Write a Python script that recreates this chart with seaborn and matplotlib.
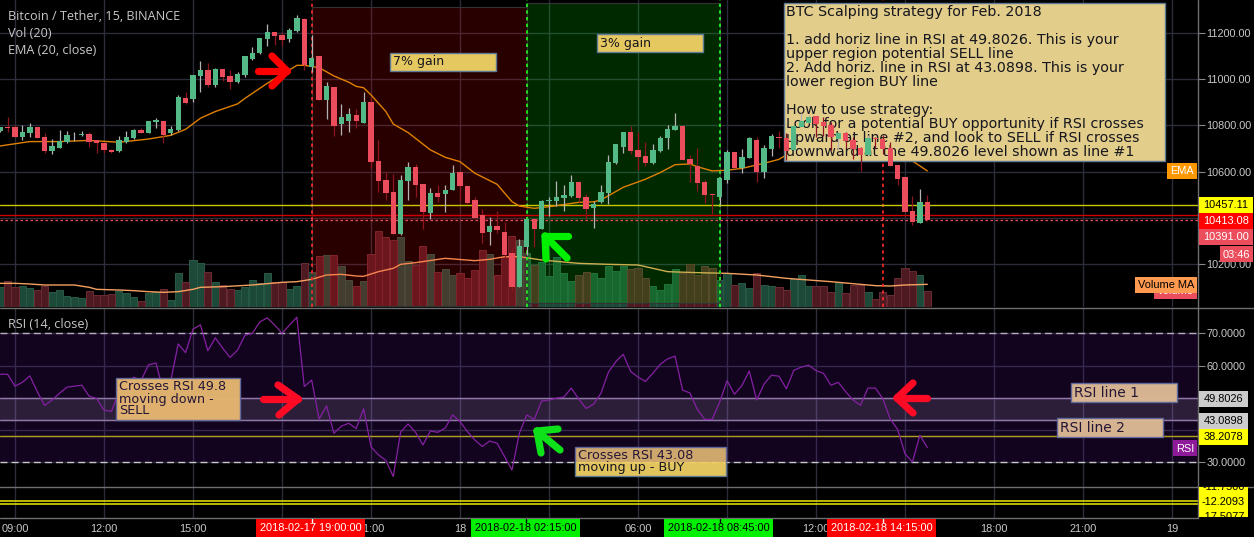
import numpy as np
import matplotlib
matplotlib.use("Agg")
import matplotlib.pyplot as plt
from matplotlib.patches import Rectangle
import seaborn as sns

# === Data ===
bars = np.arange(-2, 124)  # 15 minute bars counted from 09:00

opens = [10776, 10793, 10793, 10750, 10767, 10793, 10750, 10689, 10702, 10728, 10758, 10759, 10763, 10735, 10724, 10694,
         10689, 10728, 10746, 10780, 10767, 10815, 10819, 10767, 10780, 10919, 10914, 11014, 11040, 10975, 11044, 11014,
         10988, 11018, 11088, 11114, 11174, 11204, 11191, 11174, 11209, 11261, 11053, 11101, 10910, 10966, 10806, 10819,
         10845, 10811, 10901, 10646, 10564, 10512, 10330, 10559, 10620, 10546, 10421, 10507, 10503, 10520, 10598, 10538,
         10477, 10412, 10339, 10365, 10339, 10248, 10101, 10274, 10395, 10352, 10473, 10473, 10486, 10495, 10555, 10490,
         10443, 10469, 10507, 10637, 10707, 10772, 10694, 10668, 10637, 10689, 10746, 10780, 10798, 10655, 10624, 10555,
         10503, 10490, 10564, 10685, 10616, 10659, 10737, 10598, 10698, 10750, 10746, 10694, 10792, 10809, 10841, 10815,
         10800, 10741, 10766, 10737, 10702, 10672, 10747, 10741, 10702, 10629, 10577, 10430, 10378, 10469]
highs = [10795, 10838, 10802, 10802, 10809, 10795, 10766, 10740, 10780, 10776, 10772, 10776, 10772, 10736, 10730, 10697,
         10754, 10776, 10785, 10787, 10819, 10834, 10821, 10798, 10932, 10945, 11018, 11079, 11069, 11047, 11044, 11040,
         11031, 11101, 11141, 11178, 11239, 11206, 11204, 11222, 11278, 11267, 11191, 11101, 10988, 10966, 10893, 10875,
         10871, 10945, 10925, 10737, 10598, 10590, 10585, 10642, 10633, 10546, 10529, 10542, 10542, 10629, 10598, 10538,
         10492, 10438, 10404, 10430, 10382, 10268, 10308, 10395, 10398, 10477, 10490, 10559, 10542, 10585, 10555, 10503,
         10473, 10542, 10672, 10720, 10772, 10798, 10772, 10728, 10720, 10754, 10802, 10854, 10798, 10672, 10702, 10564,
         10503, 10572, 10694, 10685, 10698, 10751, 10751, 10715, 10763, 10776, 10766, 10798, 10852, 10845, 10841, 10835,
         10816, 10772, 10772, 10751, 10708, 10759, 10748, 10759, 10728, 10629, 10577, 10495, 10525, 10499]
lows = [10772, 10773, 10750, 10737, 10751, 10746, 10679, 10676, 10702, 10722, 10733, 10754, 10707, 10679, 10682, 10682,
        10686, 10725, 10743, 10766, 10766, 10789, 10722, 10759, 10777, 10893, 10903, 10945, 10968, 10968, 10992, 10958,
        10982, 11010, 11083, 11109, 11144, 11148, 11144, 11161, 11204, 11040, 11033, 10910, 10828, 10754, 10759, 10772,
        10787, 10811, 10616, 10512, 10477, 10330, 10326, 10477, 10490, 10352, 10395, 10469, 10425, 10520, 10473, 10460,
        10399, 10291, 10282, 10334, 10232, 10083, 10101, 10239, 10275, 10352, 10408, 10451, 10430, 10492, 10469, 10395,
        10356, 10463, 10460, 10633, 10681, 10676, 10607, 10624, 10633, 10685, 10698, 10780, 10650, 10555, 10516, 10464,
        10417, 10456, 10552, 10616, 10594, 10659, 10557, 10572, 10668, 10702, 10650, 10691, 10792, 10809, 10751, 10754,
        10694, 10697, 10701, 10655, 10603, 10668, 10701, 10675, 10624, 10542, 10425, 10369, 10378, 10386]
closes = [10793, 10790, 10750, 10772, 10793, 10746, 10689, 10711, 10733, 10759, 10760, 10762, 10728, 10725, 10694, 10685,
          10737, 10750, 10780, 10767, 10819, 10824, 10759, 10785, 10923, 10897, 11018, 11040, 10975, 11044, 11010, 10988,
          11023, 11101, 11114, 11178, 11204, 11187, 11170, 11213, 11265, 11062, 11092, 10910, 10971, 10798, 10836, 10849,
          10819, 10901, 10642, 10559, 10507, 10330, 10564, 10620, 10542, 10425, 10507, 10490, 10520, 10594, 10538, 10464,
          10399, 10334, 10365, 10347, 10239, 10101, 10278, 10395, 10352, 10473, 10477, 10490, 10499, 10555, 10486, 10438,
          10460, 10512, 10642, 10720, 10772, 10689, 10663, 10637, 10694, 10746, 10785, 10798, 10650, 10633, 10551, 10499,
          10500, 10572, 10685, 10616, 10663, 10746, 10598, 10702, 10754, 10747, 10689, 10798, 10818, 10835, 10806, 10798,
          10750, 10769, 10731, 10697, 10672, 10746, 10741, 10698, 10624, 10568, 10425, 10382, 10469, 10391]

volumes = [59, 78, 59, 63, 56, 51, 63, 44, 51, 33, 29, 26, 48, 36, 36, 39, 48, 41, 29, 17, 41, 44, 54, 21, 101, 74, 140,
           131, 104, 74, 65, 54, 51, 59, 81, 71, 101, 75, 74, 54, 63, 131, 104, 153, 155, 155, 123, 81, 63, 78, 158, 228,
           210, 201, 210, 137, 126, 183, 159, 104, 114, 96, 101, 87, 111, 171, 159, 96, 150, 213, 201, 161, 126, 135, 93,
           150, 101, 78, 96, 105, 101, 86, 123, 108, 123, 114, 117, 87, 63, 51, 69, 114, 101, 129, 96, 123, 117, 81, 101,
           66, 71, 56, 101, 66, 63, 59, 51, 83, 96, 63, 63, 63, 44, 75, 41, 66, 66, 44, 24, 44, 36, 86, 117, 108, 96, 48]

vol_ma_bars = [-2, 0, 2, 4, 6, 8, 10, 11, 14, 16, 18, 20, 22, 24, 25, 28, 32, 36, 38, 40, 42, 44, 46, 47, 49, 51, 52, 54,
               58, 62, 64, 66, 68, 71, 76, 80, 84, 88, 92, 96, 100, 104, 110, 116, 118, 120, 123]
vol_ma = [71, 71, 69, 66, 66, 66, 59, 53, 51, 49, 46, 44, 46, 53, 59, 61, 66, 74, 76, 83, 96, 98, 93, 92, 106, 116, 128,
          133, 146, 139, 143, 151, 151, 141, 131, 128, 126, 106, 103, 101, 96, 86, 76, 64, 63, 66, 68]

ema_bars = [-2, 2, 6, 10, 14, 18, 21, 23, 25, 27, 30, 31, 34, 37, 38, 39, 41, 43, 45, 46, 47, 48, 50, 51, 53, 56, 58, 60,
            62, 65, 67, 68, 70, 72, 76, 78, 79, 82, 85, 87, 89, 91, 92, 94, 96, 98, 101, 103, 105, 109, 113, 117, 121, 123]
ema = [10711, 10730, 10730, 10735, 10727, 10741, 10757, 10783, 10831, 10860, 10893, 10917, 10982, 11040, 11060, 11060,
       11050, 11014, 10987, 10969, 10963, 10932, 10860, 10806, 10769, 10694, 10662, 10643, 10593, 10545, 10470, 10451,
       10441, 10448, 10467, 10469, 10477, 10532, 10567, 10596, 10630, 10633, 10621, 10603, 10606, 10614, 10636, 10653,
       10691, 10718, 10717, 10694, 10646, 10603]

rsi = [57.3, 57.3, 53.6, 54.8, 56.8, 51.9, 47.6, 49.3, 51.4, 53.3, 53.6, 53.9, 50.5, 49.8, 46.2, 45.8, 51.7, 53.3, 56.4,
       55.4, 60.2, 60.8, 52.1, 55.2, 66.7, 64.0, 71.3, 72.6, 64.6, 68.6, 65.4, 62.5, 64.8, 69.4, 70.0, 73.5, 74.8, 72.6,
       70.0, 72.5, 75.0, 53.5, 55.5, 43.4, 47.5, 39.0, 41.2, 42.1, 40.5, 46.6, 34.8, 32.3, 30.6, 25.6, 39.4, 41.9, 39.3,
       35.4, 39.7, 39.3, 40.6, 44.7, 42.6, 39.5, 36.9, 34.9, 36.6, 35.9, 31.8, 27.6, 39.0, 44.7, 43.3, 49.0, 49.3, 49.9,
       50.2, 53.0, 49.6, 46.7, 48.0, 51.4, 57.9, 61.2, 63.5, 58.2, 56.4, 55.1, 57.6, 60.4, 62.1, 62.9, 52.4, 51.5, 46.4,
       43.3, 43.3, 48.6, 55.3, 51.1, 53.8, 58.3, 49.3, 54.3, 57.0, 56.7, 52.8, 58.5, 59.5, 60.1, 58.4, 57.6, 53.9, 54.8,
       51.9, 49.3, 47.7, 53.0, 53.0, 49.8, 43.4, 40.2, 32.6, 30.1, 38.4, 34.6]

price_ticks = [10200, 10400, 10600, 10800, 11000, 11200]
rsi_ticks = [30, 60, 70]
time_bars = [0, 12, 24, 36, 48, 60, 72, 84, 96, 108, 120, 132, 144, 156]
time_labels = ["09:00", "12:00", "15:00", "18:00", "21:00", "18", "03:00", "06:00", "09:00", "12:00", "15:00", "18:00",
               "21:00", "19"]

box_lines = [(12, "BTC Scalping strategy for Feb. 2018"),
             (40, "1. add horiz line in RSI at 49.8026. This is your"),
             (54, "upper region potential SELL line"),
             (68, "2. Add horiz. line in RSI at 43.0898. This is your"),
             (82, "lower region BUY line"),
             (110, "How to use strategy:"),
             (124, "Look for a potential BUY opportunity if RSI crosses"),
             (138, "upward at line #2, and look to SELL if RSI crosses"),
             (152, "downward at the 49.8026 level shown as line #1")]

# colours
BG = "#000000"
GRID = "#2b2d3a"
TICK = "#c8c8c8"
UP = "#53b987"
DOWN = "#eb4d5c"
NOTE = "#e6c860"
NOTE_EDGE = "#5f7a99"
SANS = "Liberation Sans"

sns.set_style("dark", rc={"axes.facecolor": BG, "figure.facecolor": BG, "axes.grid": False})
plt.rcParams["font.family"] = ["DejaVu Sans"]

W, H = 1254, 537
fig = plt.figure(figsize=(W / 100, H / 100), dpi=100)


def pane(top, bottom, zorder):
    ax = fig.add_axes([0, 1 - bottom / H, 1198 / W, (bottom - top) / H], zorder=zorder)
    ax.set_xlim(-15 / 7.417, (1198 - 15) / 7.417)
    ax.set_xticks(time_bars)
    for s in ax.spines.values():
        s.set_visible(False)
    ax.tick_params(length=0, labelbottom=False, labelleft=False)
    return ax


# overlay in pixel coordinates, for notes, tags and arrows
ov = fig.add_axes([0, 0, 1, 1], zorder=20)
ov.set_xlim(0, W)
ov.set_ylim(H, 0)
ov.axis("off")

# === Price pane, three layers: grid, volume, candles ===
ax_grid = pane(0, 307, 1)
ax_vol = pane(0, 307, 2)
ax_price = pane(0, 307, 3)
ax_vol.patch.set_alpha(0)
ax_price.patch.set_alpha(0)

y_lim = (10200 - (307 - 264) / 0.231, 10200 + 264 / 0.231)
ax_grid.set_ylim(*y_lim)
ax_grid.set_yticks(price_ticks)
ax_grid.yaxis.tick_right()
ax_grid.set_yticklabels([f"{t:.2f}" for t in price_ticks], color=TICK, family=SANS, fontsize=7.8)
ax_grid.tick_params(axis="y", length=5, color="#888888", labelright=True, pad=1)
ax_grid.grid(True, color=GRID, lw=1)
ax_grid.set_axisbelow(True)
ax_price.set_yticks([])
ax_price.set_xticks([])
ax_vol.set_yticks([])

# volume bars
opens_a, closes_a, vols = np.array(opens), np.array(closes), np.array(volumes)
rising = closes_a >= opens_a
sns.barplot(x=bars[rising], y=vols[rising], native_scale=True, width=0.96, color="#1d4a38", saturation=1,
            edgecolor="#285a46", linewidth=0.7, ax=ax_vol)
sns.barplot(x=bars[~rising], y=vols[~rising], native_scale=True, width=0.96, color="#4e1a22", saturation=1,
            edgecolor="#6a2a34", linewidth=0.7, ax=ax_vol)
sns.lineplot(x=vol_ma_bars, y=vol_ma, color="#f5a060", lw=1, errorbar=None, ax=ax_vol)
ax_vol.set_ylim(0, 921)
ax_vol.set_xlim(ax_grid.get_xlim())
ax_vol.set_xticks([])
ax_vol.set_xlabel("")
ax_vol.set_ylabel("")

# the two marked regions and their boundaries
ax_vol.axvspan(40, 69, ymin=1.3 / 307, ymax=300 / 307, facecolor=(1, 0, 0, 0.165), edgecolor="#333333", lw=0.8, zorder=3)
ax_vol.axvspan(69, 95, ymin=4.3 / 307, ymax=304 / 307, facecolor=(0, 1, 0, 0.165), edgecolor="#333333", lw=0.8, zorder=3)
for b, col in [(40, "#ff2a2a"), (69, "#22ff22"), (95, "#22ff22"), (117, "#ff2a2a")]:
    ax_vol.axvline(b, color=col, lw=1.2, ls=(0, (2, 2)), zorder=4)

# horizontal levels
ax_price.axhline(10457.11, color="#c8c800", lw=1, zorder=1)
ax_price.axhline(10413.08, color="#d00000", lw=1, zorder=1)
ax_price.axhline(10391.00, color=DOWN, lw=0.9, ls=(0, (2, 2)), zorder=1)

# EMA and candles
sns.lineplot(x=ema_bars, y=ema, color="#e08000", lw=1, errorbar=None, ax=ax_price, zorder=2)
body_low = np.minimum(opens_a, closes_a)
body_height = np.abs(closes_a - opens_a)
cols = [UP if r else DOWN for r in rising]
wick_cols = ["#b4b4b4" if r else "#8e1520" for r in rising]
ax_price.vlines(bars, lows, highs, colors=wick_cols, lw=0.9, zorder=5)
ax_price.bar(bars, body_height, bottom=body_low, width=0.72, color=cols, linewidth=0, zorder=6)
ax_price.set_xlim(ax_grid.get_xlim())
ax_price.set_ylim(*y_lim)
ax_price.set_xlabel("")
ax_price.set_ylabel("")


def note(ax, x0, y0, x1, y1, fill, lines, x_text, alpha=1.0, z=3, size=9.0):
    ax.add_patch(Rectangle((x0, y0), x1 - x0, y1 - y0, facecolor=fill, edgecolor=NOTE_EDGE, lw=1, alpha=alpha,
                           transform=ov.transData, clip_on=False, zorder=z))
    for y, s in lines:
        ax.text(x_text, y, s, color="#16161e", fontsize=size, va="center", ha="left", transform=ov.transData,
                clip_on=False, zorder=z + 0.5)


note(ax_price, 783.7, 2.7, 1164.5, 161, "#e8d28e", box_lines, 786.4, alpha=0.98, size=10.3)
note(ax_price, 390, 53, 496, 71, NOTE, [(62, "7% gain")], 393)
note(ax_price, 597, 34, 703, 52, NOTE, [(43, "3% gain")], 600)

# === RSI pane ===
ax_rsi = pane(308, 486.5, 4)
ax_rsi.set_ylim(30 - 24.2 / 3.225, 70 + 25.3 / 3.225)
ax_rsi.set_yticks(rsi_ticks)
ax_rsi.yaxis.tick_right()
ax_rsi.set_yticklabels([f"{t:.4f}" for t in rsi_ticks], color=TICK, family=SANS, fontsize=7.8)
ax_rsi.tick_params(axis="y", length=5, color="#888888", labelright=True, pad=1)
ax_rsi.set_yticks([40, 49.8026, 43.0898, 38.2078], minor=True)
ax_rsi.tick_params(axis="y", which="minor", length=0)
ax_rsi.grid(True, color=GRID, lw=1)
ax_rsi.grid(True, which="minor", axis="y", color=GRID, lw=1)
ax_rsi.set_axisbelow(True)
ax_rsi.axhspan(43.0898, 49.8026, color=(1, 1, 1, 0.13), lw=0, zorder=1)
for v in (70, 30):
    ax_rsi.axhline(v, color="#c8c8c8", lw=1, ls=(0, (5, 3)), zorder=1)
for v in (49.8026, 43.0898):
    ax_rsi.axhline(v, color="#9a8ca6", lw=1, zorder=1)
ax_rsi.axhline(38.2078, color="#b8b800", lw=1, zorder=1)
sns.lineplot(x=bars, y=rsi, color="#8a22a0", lw=0.9, errorbar=None, ax=ax_rsi, zorder=1.5)
ax_rsi.set_xlim(ax_grid.get_xlim())
ax_rsi.set_xlabel("")
ax_rsi.set_ylabel("")
note(ax_rsi, 116, 378, 240, 420, "#ffd764", [(387, "Crosses RSI 49.8"), (399, "moving down -"), (411, "SELL")], 119,
     alpha=0.97, z=2, size=9.2)
note(ax_rsi, 575, 447, 726, 476, "#f0d064", [(455.7, "Crosses RSI 43.08"), (467.7, "moving up - BUY")], 578, alpha=0.95,
     z=2, size=9.2)
note(ax_rsi, 1071, 383, 1177, 402, "#f4da8e", [(393, "RSI line 1")], 1074, alpha=0.97, z=2, size=10)
note(ax_rsi, 1057, 418, 1163, 437, "#f4da8e", [(428, "RSI line 2")], 1060, alpha=0.97, z=2, size=10)
ax_rsi.axhspan(30, 70, color=(108 / 255, 24 / 255, 180 / 255, 0.167), lw=0, zorder=3)

# === Lower pane ===
ax_low = pane(487, 518, 1)
ax_low.set_ylim(-12.9, -11.5)
ax_low.set_yticks([])
ax_low.grid(True, axis="x", color=GRID, lw=1)
ax_low.axhline(-12.12, color="#d8d800", lw=1.2)
ax_low.axhline(-12.25, color="#d8d800", lw=1.2)
ax_low.set_xticklabels(time_labels, color=TICK, family=SANS, fontsize=7.9)
ax_low.tick_params(axis="x", length=3, color="#888888", labelbottom=True, pad=1)

# === Overlay: separators, headers, tags, arrows ===
ov.plot([0, W], [307.5, 307.5], color="#6e6e6e", lw=1, zorder=1)
ov.plot([0, W], [486.5, 486.5], color="#6e6e6e", lw=1, zorder=1)
ov.plot([0, 1198], [518, 518], color="#6e6e6e", lw=1, zorder=1)
ov.plot([1198, 1198], [0, 518], color="#6e6e6e", lw=1, zorder=1)

for y, s in [(16.5, "Bitcoin / Tether, 15, BINANCE"), (33.5, "Vol (20)"), (50.5, "EMA (20, close)"),
             (325, "RSI (14, close)")]:
    ov.text(8, y, s, color=TICK, family="Open Sans", fontsize=9.05, va="center", ha="left")


def tag(x0, y0, x1, y1, fill, s, color="white", size=7.9, z=5):
    ov.add_patch(Rectangle((x0, y0), x1 - x0, y1 - y0, facecolor=fill, edgecolor="none", zorder=z))
    ov.text((x0 + x1) / 2, (y0 + y1) / 2 + 0.5, s, color=color, family=SANS, fontsize=size, va="center", ha="center",
            zorder=z + 0.5)


tag(1198.5, 197, 1253, 213, "#ffff00", "10457.11", "black")
tag(1198.5, 213, 1253, 229, "#ff0000", "10413.08")
tag(1198.5, 229, 1253, 245, DOWN, "10391.00")
tag(1220, 246, 1253, 262, DOWN, "03:46")
tag(1167, 163, 1197, 179, "#ff9800", "EMA")
tag(1154, 283, 1197, 299, DOWN, "Volume")
tag(1135, 277, 1197, 293, "#ff9a50", "Volume MA", "black", z=6)
tag(1173, 440, 1197, 456, "#8e1a9a", "RSI")
tag(1198.5, 391, 1248, 407, "#cccccc", "49.8026", "black")
tag(1198.5, 413, 1248, 429, "#cccccc", "43.0898", "black")
tag(1198.5, 429, 1248, 445, "#ffff00", "38.2078", "black")

# clipped yellow tag of the lower pane
yellow = Rectangle((1198.5, 487), 49.5, 30, facecolor="#ffff00", edgecolor="none", zorder=5)
ov.add_patch(yellow)
for y, s in [(487.5, "-11.7500"), (502, "-12.2093"), (517, "-17.5077")]:
    ov.text(1245, y, s, color="black", family=SANS, fontsize=7.9, va="center", ha="right", zorder=5.5, clip_path=yellow,
            clip_on=True)

for x0, x1, col, s, tc, tick in [(256, 365, "#ff0000", "2018-02-17 19:00:00", "white", 311.5),
                                 (471, 580, "#00f000", "2018-02-18 02:15:00", "black", 526),
                                 (664, 773, "#00f000", "2018-02-18 08:45:00", "black", 719.5),
                                 (827, 936, "#ff0000", "2018-02-18 14:15:00", "white", 882.5)]:
    tag(x0, 518.5, x1, 537, col, s, tc)
    ov.plot([tick, tick], [518.5, 522], color="white" if tc == "white" else "black", lw=1, zorder=6)


def arrow(tail, tip, wing_a, wing_b, color, lw=5.2):
    for a, b in [(tail, tip), (wing_a, tip), (wing_b, tip)]:
        ov.plot([a[0], b[0]], [a[1], b[1]], color=color, lw=lw, solid_capstyle="round", zorder=8)


arrow((258, 71), (287, 71), (272, 56), (272, 86), "#ff0000")
arrow((567, 258), (545, 236), (568, 236), (546, 259), "#00f000")
arrow((263, 399), (298, 399), (278, 385), (279, 415), "#ff0a24")
arrow((560, 450), (537, 431), (558, 429), (541, 453), "#0ee01a")
arrow((927, 398), (897, 398), (913, 383), (913, 413), "#ff0a24")

ov.set_xlim(0, W)
ov.set_ylim(H, 0)

fig.savefig("out.png", dpi=100, facecolor=BG)
